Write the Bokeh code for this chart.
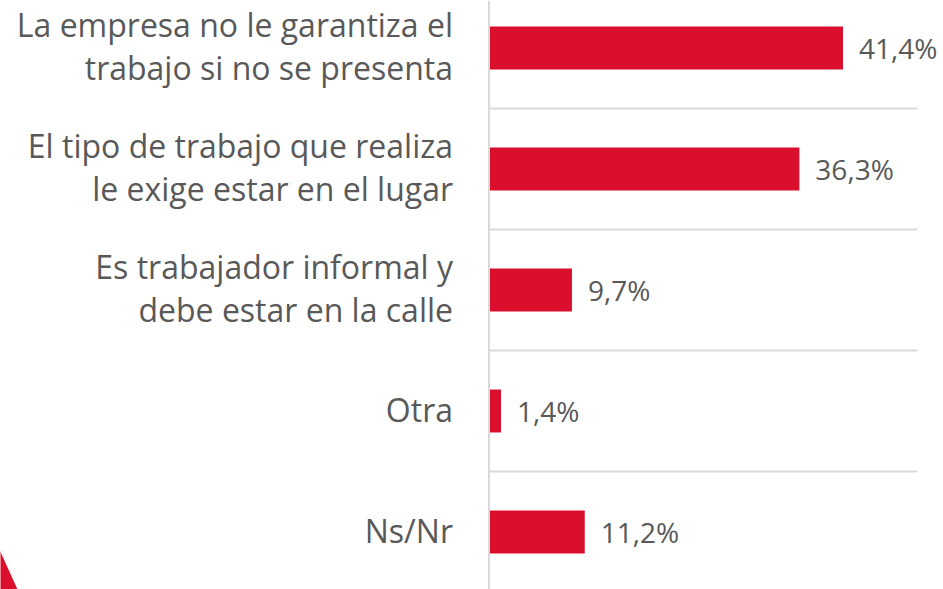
from bokeh.plotting import figure
from bokeh.models import ColumnDataSource, Range1d, Span
from bokeh.core.properties import value
from bokeh.embed import file_html
from bokeh.resources import INLINE

categories = [
    "La empresa no le garantiza el\ntrabajo si no se presenta",
    "El tipo de trabajo que realiza\nle exige estar en el lugar",
    "Es trabajador informal y\ndebe estar en la calle",
    "Otra",
    "Ns/Nr",
]
values = [41.4, 36.3, 9.7, 1.4, 11.2]
value_labels = ["41,4%", "36,3%", "9,7%", "1,4%", "11,2%"]

positions = list(range(len(categories)))
separators = [i + 0.5 for i in positions[:-1]]

RED = "#DA0F2D"
TEXT = "#595959"
GRID = "#D9D9D9"
FONT = "Open Sans"

W, H = 943, 589
PX_PER_UNIT = 8.55
X0 = 488.5
BAND = 121.0
Y0 = 47.5
def px2x(px):
    return (px - X0) / PX_PER_UNIT
def py2y(py):
    return (py - Y0) / BAND

p = figure(width=W, height=H, output_backend="svg", toolbar_location=None,
           x_range=Range1d(px2x(0), px2x(W)),
           y_range=Range1d(py2y(H), py2y(0)),
           min_border=0, min_border_left=0, min_border_right=0,
           min_border_top=0, min_border_bottom=0)
p.xaxis.visible = False
p.yaxis.visible = False
p.xgrid.visible = False
p.ygrid.visible = False
p.outline_line_color = None
p.background_fill_color = "white"

# separator lines
p.segment(x0=[0] * len(separators), x1=[px2x(917)] * len(separators),
          y0=separators, y1=separators, line_color=GRID, line_width=2)

# vertical axis line
p.add_layout(Span(location=0, dimension="height", line_color=GRID, line_width=2))

src = ColumnDataSource(dict(y=positions, v=values, lab=value_labels,
                            cat=categories, zero=[0] * len(values)))
p.hbar(y="y", left=0, right="v", height=0.355, source=src,
       fill_color=RED, line_color=None)

p.text(x="v", y="y", text="lab", source=src, x_offset=16,
       text_font=value(FONT), text_font_size="28px", text_color=TEXT,
       text_align="left", text_baseline="middle")

p.text(x="zero", y="y", text="cat", source=src, x_offset=-36, y_offset=-2,
       text_font=value(FONT), text_font_size="32px", text_color=TEXT,
       text_align="right", text_baseline="middle", text_line_height=0.99)

# decorative red corner triangle
p.patch(x=[px2x(-20), px2x(-20), px2x(31)], y=[py2y(507), py2y(620), py2y(620)],
        fill_color=RED, line_color=None)

open("out.html", "w").write(file_html(p, INLINE))
